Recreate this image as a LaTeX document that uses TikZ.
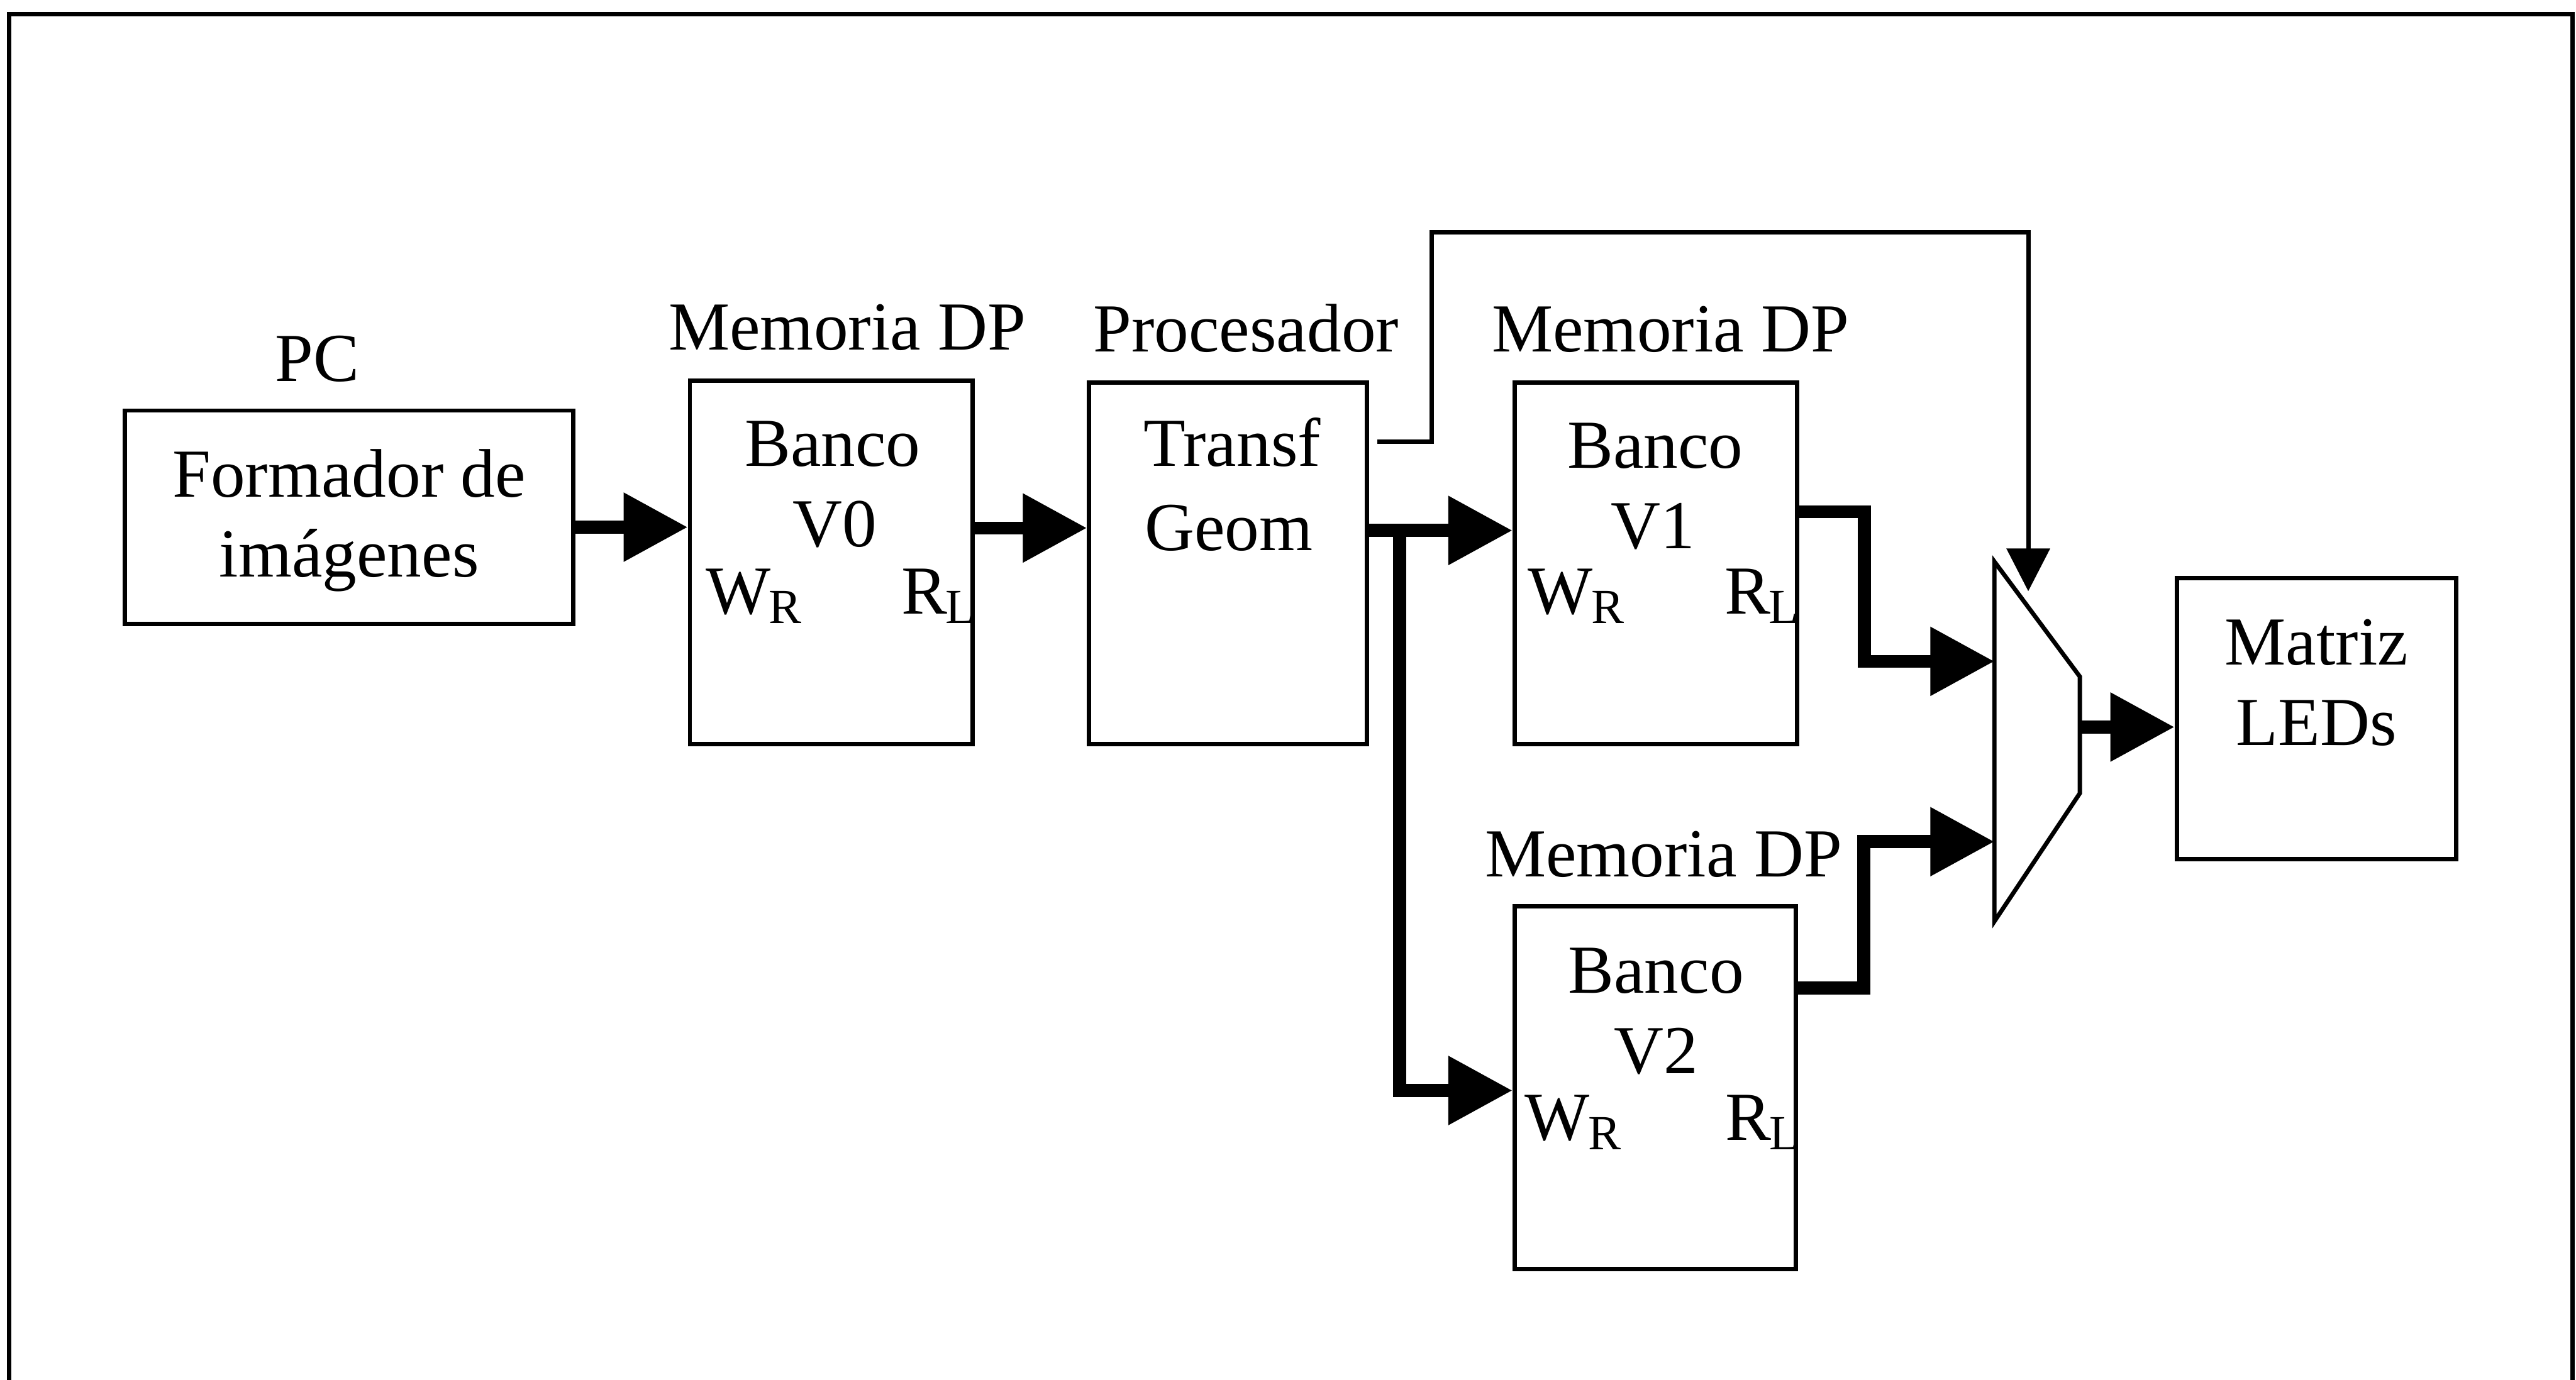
\documentclass[tikz,border=0pt]{standalone}
\usepackage{fontspec}
\setmainfont{Liberation Serif}
\usetikzlibrary{arrows.meta}
% lowered, smaller index letter (W_R, R_L)
\newcommand\lowidx[1]{\kern-0.3pt\raisebox{-0.055cm}{\fontsize{8.5}{8.5}\selectfont #1}}
\begin{document}
\begin{tikzpicture}[x=0.01cm, y=-0.01cm,
  lbl/.style={font=\fontsize{11.9}{14}\selectfont, inner sep=0pt, anchor=base},
  blk/.style={draw, line width=0.75pt, inner sep=0pt},
  bus/.style={line width=2.24pt, -{Triangle[length=0.39cm,width=0.40cm]}},
  ctrl/.style={line width=0.75pt, -{Triangle[length=0.26cm,width=0.26cm]}}]

\fill[white] (0,0) rectangle (1568,840);
\useasboundingbox (0,0) rectangle (1568,840);

% outer frame (open at the bottom)
\draw[line width=0.78pt] (5.5,845) -- (5.5,8.6) -- (1566,8.6) -- (1566,845);

% blocks
\node[blk, minimum width=2.73cm, minimum height=1.30cm] (pc)  at (212.5,315)   {};
\node[blk, minimum width=1.72cm, minimum height=2.21cm] (v0)  at (506,342.5)   {};
\node[blk, minimum width=1.69cm, minimum height=2.20cm] (tg)  at (747.5,343)   {};
\node[blk, minimum width=1.72cm, minimum height=2.20cm] (v1)  at (1008,343)    {};
\node[blk, minimum width=1.71cm, minimum height=2.205cm] (v2) at (1007.5,662.3) {};
\node[blk, minimum width=1.70cm, minimum height=1.71cm] (mat) at (1410,437.5)  {};

% multiplexer
\coordinate (muxA) at (1214,342);
\coordinate (muxB) at (1266,412);
\coordinate (muxC) at (1266,483);
\coordinate (muxD) at (1214,561);
\draw[line width=0.75pt] (muxA) -- (muxB) -- (muxC) -- (muxD) -- cycle;
\coordinate (mi1)  at (1214,402.7);
\coordinate (mi2)  at (1214,512.5);
\coordinate (mo)   at (1266,442.7);
\coordinate (msel) at (1234.6,360);

% data paths
\draw[bus] (pc.east |- 0,321) -- (v0.west |- 0,321);
\draw[bus] (v0.east |- 0,321.5) -- (tg.west |- 0,321.5);
\coordinate (jn) at (852,323);
\draw[bus] (tg.east |- 0,323) -- (v1.west |- 0,323);
\draw[bus] (jn) |- (v2.west |- 0,664);
\draw[bus] (v1.east |- 0,311.6) -- ++(39.5,0) |- (mi1);
\draw[bus] (v2.east |- 0,601.5) -- ++(40,0) |- (mi2);
\draw[bus] (mo) -- (mat.west |- mo);

% select line
\coordinate (cs) at (838.5,269);
\draw[ctrl] (cs) -| (871.6,141.5) -| (msel);

% texts
\node[lbl] (pcT) at (193,232)     {PC};
\node[lbl] (pcA) at (212.5,302.6) {Formador de};
\node[lbl] (pcB) at (212.5,351.4) {imágenes};

\node[lbl] (v0T) at (515.7,213) {Memoria DP};
\node[lbl] (v0A) at (506.8,284) {Banco};
\node[lbl] (v0B) at (508,333)   {V0};
\node[lbl, anchor=base west] (v0W) at (429,374) {W\lowidx{R}};
\node[lbl, anchor=base west] (v0R) at (548,374) {R\lowidx{L}};

\node[lbl] (tgT) at (758.5,214) {Procesador};
\node[lbl] (tgA) at (750,284)   {Transf};
\node[lbl] (tgB) at (748,335)   {Geom};

\node[lbl] (v1T) at (1016.8,214) {Memoria DP};
\node[lbl] (v1A) at (1007.5,285) {Banco};
\node[lbl] (v1B) at (1006,334)   {V1};
\node[lbl, anchor=base west] (v1W) at (929.5,374) {W\lowidx{R}};
\node[lbl, anchor=base west] (v1R) at (1049,374)  {R\lowidx{L}};

\node[lbl] (v2T) at (1012.5,534) {Memoria DP};
\node[lbl] (v2A) at (1008,604.5) {Banco};
\node[lbl] (v2B) at (1008,653.7) {V2};
\node[lbl, anchor=base west] (v2W) at (927.5,694.3) {W\lowidx{R}};
\node[lbl, anchor=base west] (v2R) at (1049.5,694.3) {R\lowidx{L}};

\node[lbl] (matA) at (1410,404.8) {Matriz};
\node[lbl] (matB) at (1410,454)   {LEDs};
\end{tikzpicture}
\end{document}
